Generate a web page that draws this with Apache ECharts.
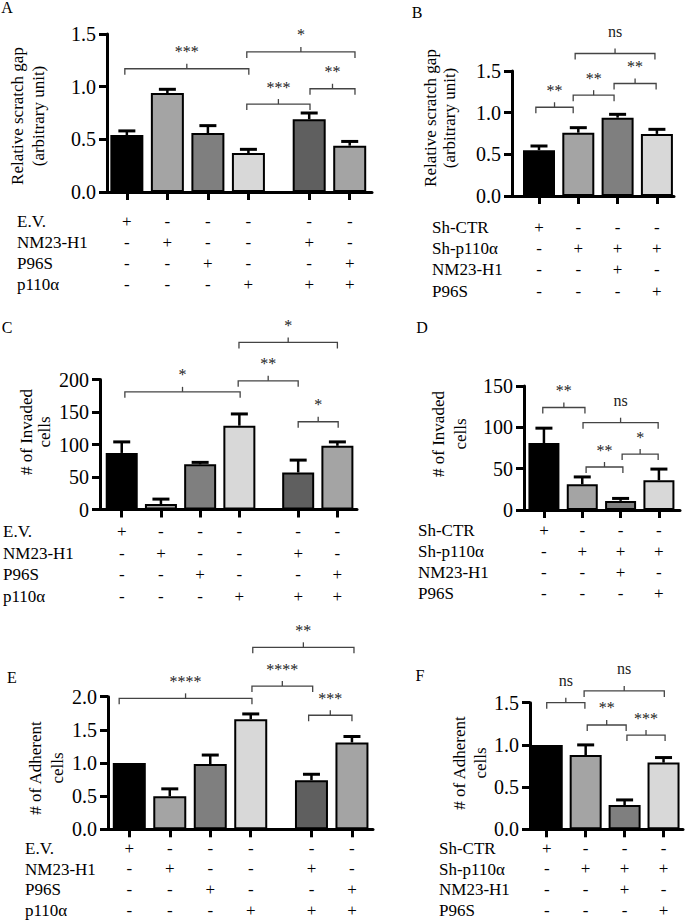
<!DOCTYPE html>
<html><head><meta charset="utf-8">
<script src="https://cdn.jsdelivr.net/npm/echarts@6/dist/echarts.min.js"></script>
<style>html,body{margin:0;padding:0;background:#fff}#c{width:685px;height:922px}</style>
</head><body><div id="c"></div>
<script>
// ---------------- data ----------------
const rowsPlasmid = ['E.V.', 'NM23-H1', 'P96S', 'p110α'];
const rowsShRNA = ['Sh-CTR', 'Sh-p110α', 'NM23-H1', 'P96S'];
const signsPlasmid = [
  ['+', '-', '-', '-', '-', '-'],
  ['-', '+', '-', '-', '+', '-'],
  ['-', '-', '+', '-', '-', '+'],
  ['-', '-', '-', '+', '+', '+']
];
const signsShRNA = [
  ['+', '-', '-', '-'],
  ['-', '+', '+', '+'],
  ['-', '-', '+', '-'],
  ['-', '-', '-', '+']
];
const posPlasmid = [0, 1, 2, 3, 4.5, 5.5];
const posShRNA = [0, 1, 2, 3];

// A: relative scratch gap (plasmids)
const meanA = [0.54, 0.94, 0.56, 0.37, 0.69, 0.44];
const semA = [0.04, 0.035, 0.07, 0.035, 0.06, 0.04];
const bracketA = [[-0.05, 3.01, 1.17], [2.96, 5.63, 1.33], [2.96, 4.52, 0.835], [4.52, 5.63, 0.98]];
const starsA = ['***', '*', '***', '**'];

// B: relative scratch gap (shRNA)
const meanB = [0.55, 0.76, 0.94, 0.745];
const semB = [0.05, 0.06, 0.04, 0.055];
const bracketB = [[-0.08, 0.87, 1.065], [0.87, 1.91, 1.21], [1.91, 2.98, 1.35], [0.92, 2.95, 1.71]];
const starsB = ['**', '**', '**', 'ns'];

// C: invaded cells (plasmids)
const meanC = [87, 8.5, 69.5, 129, 57, 98];
const semC = [17, 7.5, 3, 18, 19, 6];
const bracketC = [[0.08, 3.02, 181], [2.97, 4.5, 198], [2.99, 5.5, 257], [4.5, 5.52, 135]];
const starsC = ['*', '**', '*', '*'];

// D: invaded cells (shRNA)
const meanD = [81, 31, 11, 36];
const semD = [18, 9, 3, 13.5];
const bracketD = [[-0.03, 1.07, 124], [1.02, 2.98, 105.6], [2.04, 2.98, 67.7], [1.1, 2.06, 52]];
const starsD = ['**', 'ns', '*', '**'];

// E: adherent cells (plasmids)
const meanE = [1.0, 0.5, 0.985, 1.66, 0.74, 1.31];
const semE = [0, 0.11, 0.135, 0.08, 0.09, 0.09];
const bracketE = [[-0.25, 3.03, 1.975], [3.03, 4.53, 2.16], [3.05, 5.55, 2.745], [4.43, 5.5, 1.72]];
const starsE = ['****', '****', '**', '***'];

// F: adherent cells (shRNA)
const meanF = [1.0, 0.88, 0.288, 0.79];
const semF = [0, 0.12, 0.06, 0.06];
const bracketF = [[0, 0.98, 1.5], [0.96, 3.02, 1.64], [1.04, 2.04, 1.236], [2.06, 3.04, 1.117]];
const starsF = ['ns', 'ns', '**', '***'];

// ---------------- styles / layout ----------------
const FONT = '"Liberation Serif", "Times New Roman", Times, serif';
const colorsPlasmid = ['#000000', '#a4a4a4', '#7f7f7f', '#d8d8d8', '#5f5f5f', '#a4a4a4'];
const colorsShRNA = ['#000000', '#a4a4a4', '#7f7f7f', '#d8d8d8'];

const panels = [
  { letter: 'A', lx: 7, ly: 7, g: [107, 34, 265, 158], xMin: -0.49, xMax: 6.05, yMax: 1.5, yInt: 0.5, dec: 1,
    pos: posPlasmid, mean: meanA, sem: semA, br: bracketA, st: starsA, colors: colorsPlasmid,
    signs: signsPlasmid, rows: rowsPlasmid, rowX: 17, margin: 18.5, rowH: 21, barW: 33, capW: 17,
    title: ['Relative scratch gap', '(arbitrary unit)'], tx: 28, ty: 116, tlh: 21 },
  { letter: 'B', lx: 417, ly: 12, g: [512, 71, 162, 125], xMin: -0.687, xMax: 3.435, yMax: 1.5, yInt: 0.5, dec: 1,
    pos: posShRNA, mean: meanB, sem: semB, br: bracketB, st: starsB, colors: colorsShRNA,
    signs: signsShRNA, rows: rowsShRNA, rowX: 432, margin: 20.5, rowH: 21.3, barW: 32, capW: 17,
    title: ['Relative scratch gap', '(arbitrary unit)'], tx: 440, ty: 118, tlh: 19 },
  { letter: 'C', lx: 7, ly: 327, g: [100, 379.5, 257, 130], xMin: -0.554, xMax: 6.0, yMax: 200, yInt: 50, dec: 0,
    pos: posPlasmid, mean: meanC, sem: semC, br: bracketC, st: starsC, colors: colorsPlasmid,
    signs: signsPlasmid, rows: rowsPlasmid, rowX: 3, margin: 11.5, rowH: 21.5, barW: 32, capW: 17,
    title: ['# of Invaded', 'cells'], tx: 35, ty: 432, tlh: 18 },
  { letter: 'D', lx: 422, ly: 327, g: [524, 386, 156, 124], xMin: -0.52, xMax: 3.55, yMax: 150, yInt: 50, dec: 0,
    pos: posShRNA, mean: meanD, sem: semD, br: bracketD, st: starsD, colors: colorsShRNA,
    signs: signsShRNA, rows: rowsShRNA, rowX: 418, margin: 9.5, rowH: 21, barW: 31, capW: 17,
    title: ['# of Invaded', 'cells'], tx: 449, ty: 434, tlh: 22 },
  { letter: 'E', lx: 12, ly: 677, g: [108, 696.7, 265, 132.6], xMin: -0.526, xMax: 6.02, yMax: 2.0, yInt: 0.5, dec: 1,
    pos: posPlasmid, mean: meanE, sem: semE, br: bracketE, st: starsE, colors: colorsPlasmid,
    signs: signsPlasmid, rows: rowsPlasmid, rowX: 25, margin: 8.5, rowH: 20.8, barW: 33, capW: 17,
    title: ['# of Adherent', 'cells'], tx: 46, ty: 768, tlh: 22 },
  { letter: 'F', lx: 420, ly: 675, g: [530, 702.7, 153, 126.6], xMin: -0.43, xMax: 3.5, yMax: 1.5, yInt: 0.5, dec: 1,
    pos: posShRNA, mean: meanF, sem: semF, br: bracketF, st: starsF, colors: colorsShRNA,
    signs: signsShRNA, rows: rowsShRNA, rowX: 439, margin: 8.5, rowH: 20.8, barW: 32, capW: 17,
    title: ['# of Adherent', 'cells'], tx: 470, ty: 763, tlh: 21 }
];

const grid = [], xAxis = [], yAxis = [], series = [], graphic = [];

panels.forEach((p, i) => {
  grid.push({ left: p.g[0], top: p.g[1], width: p.g[2], height: p.g[3] });
  xAxis.push({
    gridIndex: i, type: 'value', min: p.xMin, max: p.xMax,
    axisLine: { show: true, onZero: false, lineStyle: { color: '#000', width: 3 } },
    axisTick: { show: true, customValues: p.pos, length: 8, lineStyle: { color: '#000', width: 3 } },
    axisLabel: {
      customValues: p.pos, margin: p.margin, lineHeight: p.rowH,
      fontFamily: FONT, fontSize: 17, color: '#000',
      formatter: v => { const k = p.pos.indexOf(v); return k < 0 ? '' : p.signs.map(r => r[k]).join('\n'); }
    },
    splitLine: { show: false }
  });
  yAxis.push({
    gridIndex: i, type: 'value', min: 0, max: p.yMax, interval: p.yInt,
    axisLine: { show: true, onZero: false, lineStyle: { color: '#000', width: 3 } },
    axisTick: { show: true, length: 8, lineStyle: { color: '#000', width: 3 } },
    axisLabel: { margin: 11, fontFamily: FONT, fontSize: 20, color: '#000', formatter: v => v.toFixed(p.dec) },
    splitLine: { show: false }
  });
  series.push({
    type: 'bar', xAxisIndex: i, yAxisIndex: i, barWidth: p.barW, animation: false,
    data: p.pos.map((x, k) => ({ value: [x, p.mean[k]], itemStyle: { color: p.colors[k], borderColor: '#000', borderWidth: 2 } }))
  });
  series.push({
    type: 'custom', xAxisIndex: i, yAxisIndex: i, animation: false, z: 5,
    data: p.pos.map((x, k) => [x, p.mean[k], p.sem[k]]),
    renderItem: (params, api) => {
      const x = api.value(0), m = api.value(1), e = api.value(2);
      if (!e) return null;
      const a = api.coord([x, m]), b = api.coord([x, m + e]);
      return { type: 'group', children: [
        { type: 'line', shape: { x1: a[0], y1: a[1], x2: b[0], y2: b[1] }, style: { stroke: '#000', lineWidth: 2.5 } },
        { type: 'line', shape: { x1: b[0] - p.capW / 2, y1: b[1], x2: b[0] + p.capW / 2, y2: b[1] }, style: { stroke: '#000', lineWidth: 3 } }
      ] };
    }
  });
  series.push({
    type: 'custom', xAxisIndex: i, yAxisIndex: i, animation: false, z: 6, clip: false,
    data: p.br,
    renderItem: (params, api) => {
      const a = api.coord([api.value(0), api.value(2)]);
      const b = api.coord([api.value(1), api.value(2)]);
      const y = a[1], xm = (a[0] + b[0]) / 2;
      const lbl = p.st[params.dataIndex];
      const ns = lbl === 'ns';
      return { type: 'group', children: [
        { type: 'polyline', shape: { points: [[a[0], y + 6], [a[0], y], [b[0], y], [b[0], y + 6]] }, style: { stroke: '#444', lineWidth: 1.3, fill: null } },
        { type: 'line', shape: { x1: xm, y1: y, x2: xm, y2: y - 5 }, style: { stroke: '#444', lineWidth: 1.3 } },
        { type: 'text', x: xm, y: y - (ns ? 22 : 17), style: { text: lbl, fontFamily: FONT, fontSize: 16, fill: '#222', align: 'center', verticalAlign: 'middle' } }
      ] };
    }
  });
  graphic.push({ type: 'text', x: p.lx, y: p.ly, style: { text: p.letter, fontFamily: FONT, fontSize: 16, fill: '#000', align: 'center', verticalAlign: 'middle' } });
  graphic.push({ type: 'text', x: p.tx, y: p.ty, rotation: Math.PI / 2,
    style: { text: p.title.join('\n'), fontFamily: FONT, fontSize: 17, lineHeight: p.tlh, fill: '#000', align: 'center', verticalAlign: 'middle' } });
  const axisY = p.g[1] + p.g[3];
  p.rows.forEach((r, k) => {
    graphic.push({ type: 'text', x: p.rowX, y: axisY + p.margin + p.rowH * (k + 0.5),
      style: { text: r, fontFamily: FONT, fontSize: 17, lineHeight: 17, fill: '#000', align: 'left', verticalAlign: 'middle' } });
  });
});

const chart = echarts.init(document.getElementById('c'), null, { renderer: 'svg', width: 685, height: 922 });
chart.setOption({ backgroundColor: '#fff', animation: false, grid, xAxis, yAxis, series, graphic });
</script>
</body></html>
